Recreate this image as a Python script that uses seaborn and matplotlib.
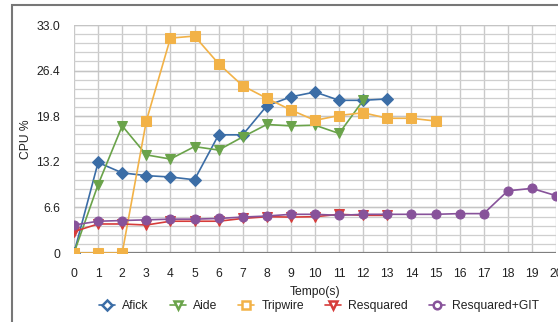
import matplotlib
matplotlib.use("Agg")
import matplotlib.pyplot as plt
from matplotlib.lines import Line2D
from matplotlib.patches import Rectangle
import numpy as np
import pandas as pd
import seaborn as sns

# CPU usage (%) sampled each second
afick = [0.0, 13.1, 11.6, 11.2, 11.0, 10.6, 17.1, 17.1, 21.3, 22.6, 23.3, 22.1, 22.1, 22.3]
aide = [0.0, 9.9, 18.4, 14.2, 13.6, 15.4, 14.9, 16.8, 18.6, 18.4, 18.5, 17.3, 22.1]
tripwire = [0.0, 0.0, 0.0, 19.1, 31.1, 31.4, 27.4, 24.2, 22.4, 20.7, 19.2, 19.9, 20.3,
            19.5, 19.5, 19.1]
resquared = [3.1, 4.2, 4.2, 4.05, 4.6, 4.6, 4.6, 5.0, 5.25, 5.2, 5.25, 5.6, 5.45, 5.45]
resquared_git = [4.05, 4.6, 4.7, 4.8, 4.9, 4.9, 5.0, 5.2, 5.35, 5.6, 5.6, 5.45, 5.6, 5.6,
                 5.6, 5.6, 5.7, 5.7, 9.0, 9.35, 8.3]

series_names = ["Afick", "Aide", "Tripwire", "Resquared", "Resquared+GIT"]
series_values = [afick, aide, tripwire, resquared, resquared_git]
colors = ["#3b6da6", "#6aa34a", "#f2b247", "#d63c3a", "#87529a"]
markers = ["D", "v", "s", "v", "o"]
marker_sizes = [5.8, 7.5, 6.5, 7.5, 6.5]

y_ticks = [0, 6.6, 13.2, 19.8, 26.4, 33.0]
y_tick_labels = ["0", "6.6", "13.2", "19.8", "26.4", "33.0"]
x_ticks = list(range(0, 21))

rows = []
for name, vals in zip(series_names, series_values):
    for t, v in enumerate(vals):
        rows.append({"Tempo": t, "CPU": v, "Serie": name})
df = pd.DataFrame(rows)

sns.set_style("white")
plt.rcParams["font.family"] = ["Liberation Sans", "DejaVu Sans"]
FS = 8.7

fig = plt.figure(figsize=(5.58, 3.22), dpi=100)
ax = fig.add_axes([74 / 558, 69 / 322, 482 / 558, 228 / 322])

# grid: vertical each second, horizontal minor every 1.32
for t in x_ticks:
    ax.axvline(t, color="#c9c9c9", lw=1.0, zorder=0)
for yv in np.arange(0, 33.0 + 0.01, 1.32):
    ax.axhline(yv, color="#cfcfcf", lw=0.9, zorder=0)
for yv in y_ticks:
    ax.axhline(yv, color="#c4c4c4", lw=1.0, zorder=0)
ax.axhline(0, color="#7f7f7f", lw=1.6, zorder=1)

for name, color, mk, ms in zip(series_names, colors, markers, marker_sizes):
    sub = df[df["Serie"] == name]
    sns.lineplot(data=sub, x="Tempo", y="CPU", ax=ax, color=color, lw=1.2,
                 marker=mk, markersize=ms, markeredgecolor=color,
                 markerfacecolor=color, legend=False, zorder=3)

ax.set_xlim(0, 20)
ax.set_ylim(0, 33.0)
ax.set_xticks(x_ticks)
ax.set_yticks(y_ticks)
ax.set_yticklabels(y_tick_labels)
for s in ax.spines.values():
    s.set_visible(False)
ax.tick_params(axis="x", length=3, width=0.8, color="#7f7f7f", pad=8,
               labelsize=FS, labelcolor="#222222", direction="out")
ax.tick_params(axis="y", length=0, pad=10, labelsize=FS, labelcolor="#222222")
ax.set_xlabel("Tempo(s)", fontsize=FS, color="#222222", labelpad=4)
ax.set_ylabel("CPU %", fontsize=FS, color="#222222", labelpad=3)

handles = [Line2D([0], [0], color=c, lw=1.2, marker=m, markersize=5.5,
                  markerfacecolor="white", markeredgecolor=c, markeredgewidth=1.8)
           for c, m in zip(colors, markers)]
fig.legend(handles, series_names, loc="center", bbox_to_anchor=(0.572, 16 / 322),
           ncol=5, frameon=False, fontsize=FS, handlelength=1.3,
           handletextpad=0.6, columnspacing=1.75, labelcolor="#222222")

# outer panel border
fig.patches.append(Rectangle((12 / 558, -0.2), 1.2, 0.2 + 1 - 5 / 322,
                             transform=fig.transFigure, fill=False,
                             edgecolor="#777777", lw=1.5, zorder=0))

fig.savefig("out.png", dpi=100)
